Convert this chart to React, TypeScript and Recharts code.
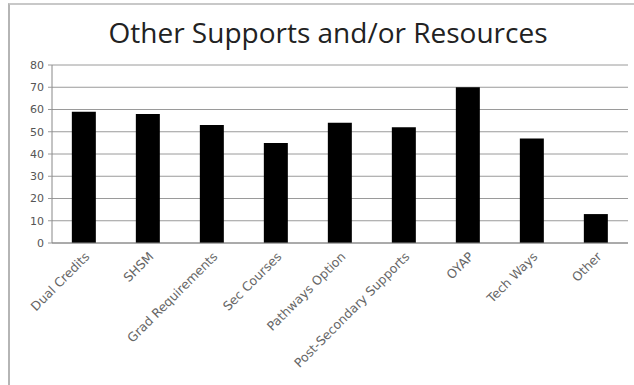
import { Bar, BarChart, CartesianGrid, XAxis, YAxis } from 'recharts';

const categories = [
  'Dual Credits',
  'SHSM',
  'Grad Requirements',
  'Sec Courses',
  'Pathways Option',
  'Post-Secondary Supports',
  'OYAP',
  'Tech Ways',
  'Other',
];
const counts = [59, 58, 53, 45, 54, 52, 70, 47, 13];
const yTicks = [0, 10, 20, 30, 40, 50, 60, 70, 80];

const data = categories.map((name, i) => ({ name, value: counts[i] }));

function AngledTick({ x, y, payload }: { x?: number; y?: number; payload?: { value: string } }) {
  return (
    <g transform={`translate(${x},${y})`}>
      <text
        x={0}
        y={0}
        dy={9}
        textAnchor="end"
        transform="rotate(-45)"
        fill="#666"
        fontSize={12.5}
        fontFamily="'DejaVu Sans', sans-serif"
      >
        {payload?.value}
      </text>
    </g>
  );
}

export default function App() {
  return (
    <div style={{ position: 'relative', width: 634, height: 385, background: '#fff' }}>
      <style>{`body{margin:0}`}</style>
      {/* frame */}
      <div
        style={{
          position: 'absolute',
          left: 8,
          top: 3,
          width: 640,
          height: 400,
          borderLeft: '2px solid #b5b5b5',
          borderTop: '2px solid #c8c8c8',
        }}
      />
      <div
        style={{
          position: 'absolute',
          left: 0,
          width: 656,
          top: 13,
          textAlign: 'center',
          fontFamily: "'Open Sans', sans-serif",
          fontSize: 28,
          color: '#222',
        }}
      >
        Other Supports and/or Resources
      </div>
      <BarChart
        width={634}
        height={385}
        data={data}
        margin={{ top: 65, right: 6, bottom: 42, left: 12 }}
        barCategoryGap="31%"
        style={{ position: 'absolute', left: 0, top: 0 }}
      >
        <CartesianGrid vertical={false} stroke="#9a9a9a" />
        <XAxis
          dataKey="name"
          interval={0}
          height={100}
          tickLine={false}
          axisLine={{ stroke: '#888' }}
          tick={<AngledTick />}
        />
        <YAxis
          domain={[0, 80]}
          ticks={yTicks}
          width={40}
          tickSize={4}
          tickMargin={4}
          axisLine={{ stroke: '#888' }}
          tickLine={{ stroke: '#9a9a9a' }}
          tick={{ fill: '#555', fontSize: 11, fontFamily: "'DejaVu Sans', sans-serif" }}
          interval={0}
        />
        <Bar dataKey="value" fill="#000" isAnimationActive={false} />
      </BarChart>
    </div>
  );
}
